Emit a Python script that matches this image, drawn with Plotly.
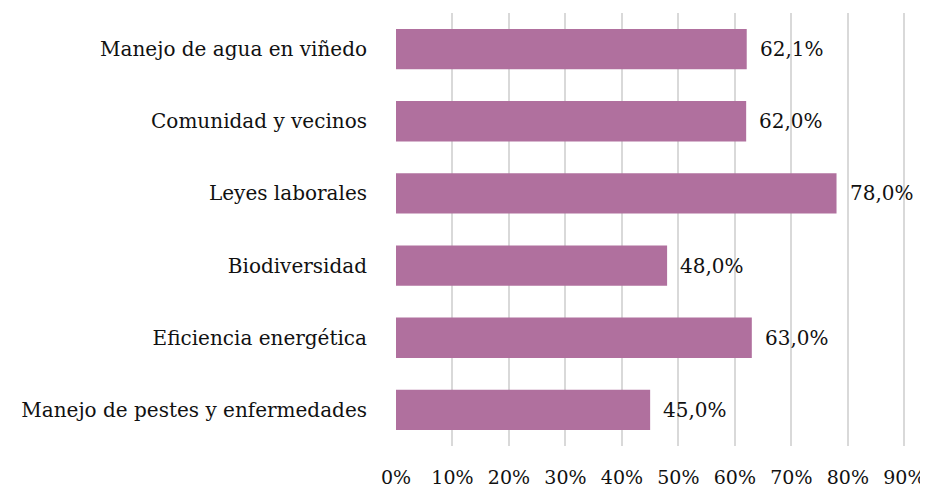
import plotly.graph_objects as go

categories = [
    "Manejo de agua en viñedo",
    "Comunidad y vecinos",
    "Leyes laborales",
    "Biodiversidad",
    "Eficiencia energética",
    "Manejo de pestes y enfermedades",
]
values = [62.1, 62.0, 78.0, 48.0, 63.0, 45.0]
x_ticks = [0, 10, 20, 30, 40, 50, 60, 70, 80, 90]
x_tick_labels = [f"{t}%" for t in x_ticks]

FONT = "DejaVu Serif"
BAR_COLOR = "#B0709E"

fig = go.Figure(go.Bar(
    x=values,
    y=categories,
    orientation="h",
    marker=dict(color=BAR_COLOR, line=dict(width=0)),
    width=0.56,
    hoverinfo="x+y",
))

for cat, val in zip(categories, values):
    fig.add_annotation(
        x=val, y=cat, xref="x", yref="y",
        text=f"{val:.1f}%".replace(".", ","),
        showarrow=False, xanchor="left", xshift=11,
        font=dict(family=FONT, size=20, color="#111111"),
    )

# the page adds an 8px body margin, so the figure is 8px smaller than the window
# range runs a little past 90 so the last gridline is not dropped at the edge
fig.update_layout(
    width=920, height=481,
    margin=dict(l=388, r=22, t=5, b=43),
    paper_bgcolor="white", plot_bgcolor="white",
    font=dict(family=FONT, size=20, color="#111111"),
    showlegend=False,
    xaxis=dict(
        range=[0, 90.3], tickvals=x_ticks, ticktext=x_tick_labels,
        tickfont=dict(size=19),
        showgrid=True, gridcolor="#D9D9D9", gridwidth=1.5,
        zeroline=False, showline=False, automargin=False,
        ticks="outside", ticklen=14, tickcolor="rgba(0,0,0,0)",
        fixedrange=True,
    ),
    yaxis=dict(
        categoryorder="array", categoryarray=categories[::-1],
        showgrid=False, zeroline=False, showline=False, automargin=False,
        ticks="outside", ticklen=24, tickcolor="rgba(0,0,0,0)",
        fixedrange=True,
    ),
)

fig.write_html("out.html")
